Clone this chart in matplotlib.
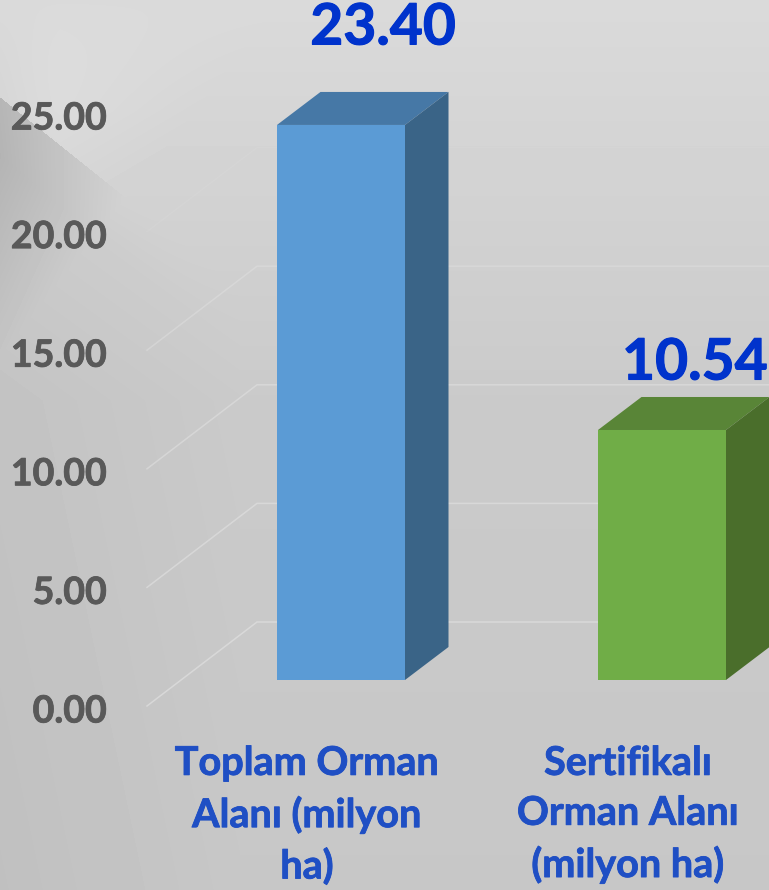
import numpy as np
import matplotlib
matplotlib.use("Agg")
import matplotlib.pyplot as plt
import matplotlib.patheffects as pe
from matplotlib.patches import Polygon
from matplotlib.transforms import ScaledTranslation

categories = ["Toplam Orman\nAlanı (milyon\nha)", "Sertifikalı\nOrman Alanı\n(milyon ha)"]
values = [23.40, 10.54]
value_labels = ["23.40", "10.54"]
y_ticks = [0, 5, 10, 15, 20, 25]
y_tick_labels = ["0.00", "5.00", "10.00", "15.00", "20.00", "25.00"]
front_colors = ["#5B9BD5", "#70AD47"]
top_colors = ["#4678A6", "#598537"]
side_colors = ["#3A6487", "#4A6E2B"]

W, H = 769, 890
PX_X = 321.0      # pixels per category
PX_Y = 23.72      # pixels per value unit
plt.rcParams["font.family"] = ["Lato", "DejaVu Sans"]
fig = plt.figure(figsize=(W / 100, H / 100), dpi=100)

# background: gradient with the shaded corner
bg = fig.add_axes([0, 0, 1, 1], zorder=0)
bg.set_axis_off()
yy, xx = np.mgrid[0:H, 0:W]
base = 218 - 16 * np.clip(yy / 400, 0, 1) - 3 * np.clip((yy - 400) / 490, 0, 1)
below = yy - (97 + 0.8 * xx)
u = np.clip(1 - (xx * 0.78 + (yy - 97) * 0.62) / 160, 0, 1)
light = 9 * u * np.clip(xx / 60, 0, 1) * np.clip(yy / 110, 0, 1)
dark = 32 * u + 7 * np.clip(1 - xx / 240, 0, 1) * np.clip(below / 60, 0, 1)
img = np.where(below > 0, base - dark, base + light)
bg.imshow(img, cmap="gray", vmin=0, vmax=255, extent=(0, W, H, 0), aspect="auto", interpolation="bilinear")

# main axes = the front edge of the chart's left wall
L, B0 = 147, 706
ax = fig.add_axes([L / W, (H - B0) / H, (W - L) / W, B0 / H], zorder=1)
ax.patch.set_alpha(0)
x0 = (L - 307) / PX_X
ax.set_xlim(x0, x0 + (W - L) / PX_X)
ax.set_ylim(0, B0 / PX_Y)
for s in ax.spines.values():
    s.set_visible(False)

# wall gridlines
wall_dx, wall_dy = 110 / PX_X, 84 / PX_Y
for v, a in zip(y_ticks, [0.65, 0.6, 0.55, 0.45, 0.15, 0.0]):
    ax.plot([x0, x0 + wall_dx, x0 + (W - L) / PX_X], [v, v + wall_dy, v + wall_dy],
            color="#E2E2E2", lw=1.1, alpha=a, clip_on=False, zorder=1, solid_joinstyle="miter")

# 3D bars
shift_x, shift_y = 34 / PX_X, 26 / PX_Y
depth_x, depth_y = 43.5 / PX_X, 33 / PX_Y
bar_w = 128 / PX_X
positions = np.arange(len(values))
ax.bar(positions + shift_x, values, width=bar_w, bottom=shift_y, color=front_colors,
       linewidth=0, zorder=4, clip_on=False)
for p, v, tc, sc in zip(positions, values, top_colors, side_colors):
    xl = p + shift_x - bar_w / 2
    xr = p + shift_x + bar_w / 2
    yb, yt = shift_y, shift_y + v
    ax.add_patch(Polygon([(xl, yt), (xr, yt), (xr + depth_x, yt + depth_y), (xl + depth_x, yt + depth_y)],
                         closed=True, fc=tc, ec="none", zorder=3))
    ax.add_patch(Polygon([(xr, yb), (xr + depth_x, yb + depth_y), (xr + depth_x, yt + depth_y), (xr, yt)],
                         closed=True, fc=sc, ec="none", zorder=3))

# value labels
for p, v, lab, off in zip(positions, values, value_labels, [(42, 64), (33, 34)]):
    t = ax.annotate(lab, (p + shift_x, shift_y + v + depth_y), xytext=(off[0] * 0.72, off[1] * 0.72),
                    textcoords="offset points", ha="center", va="center", fontsize=41,
                    fontweight="bold", color="#0033CC", annotation_clip=False, zorder=6)
    t.set_path_effects([pe.withStroke(linewidth=0.8, foreground="#0033CC")])

# axis ticks
ax.set_yticks(y_ticks, y_tick_labels)
ax.set_xticks(positions, categories)
ax.tick_params(axis="y", length=0, pad=29, labelsize=27, labelcolor="#595959")
ax.tick_params(axis="x", length=0, pad=28, labelsize=28.5, labelcolor="#1F4FC4")
down = ScaledTranslation(0, -0.025, fig.dpi_scale_trans)
for t in ax.get_yticklabels():
    t.set_fontweight("bold")
    t.set_path_effects([pe.withStroke(linewidth=0.6, foreground="#595959")])
    t.set_transform(t.get_transform() + down)
for t in ax.get_xticklabels():
    t.set_fontweight("bold")
    t.set_linespacing(1.43)
    t.set_path_effects([pe.withStroke(linewidth=0.6, foreground="#1F4FC4")])

fig.savefig("out.png", dpi=100)
